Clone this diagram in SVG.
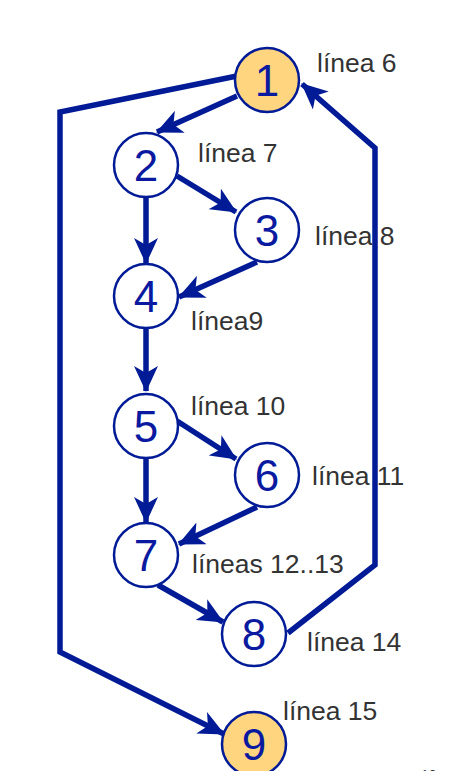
<svg xmlns="http://www.w3.org/2000/svg" width="449" height="771" viewBox="0 0 449 771">
<style>
.edge{fill:none;stroke:#011A96;stroke-width:5.5;stroke-linejoin:miter;marker-end:url(#arr)}
.node circle{fill:#fff;stroke:#011A96;stroke-width:2.5}
.node.hl circle{fill:#FFD580}
.num{font-family:"Liberation Sans",Arial,sans-serif;font-size:44px;fill:#0A1AA0;text-anchor:middle}
.lbl{font-family:"Liberation Sans",Arial,sans-serif;font-size:26.5px;fill:#333}
</style>
<defs>
<marker id="arr" markerUnits="userSpaceOnUse" viewBox="0 0 26 24" refX="25" refY="12" markerWidth="26" markerHeight="24" orient="auto">
<path d="M26,12 L0,0 L7,12 L0,24 Z" fill="#011A96"/>
</marker>
</defs>
<g id="connectors">
<line class="edge" x1="237" y1="96" x2="157" y2="132"/>
<polyline class="edge" points="237,76 60,112 60,652 224,734"/>
<polyline class="edge" points="288,633 375,565 375,148 302,84"/>
<line class="edge" x1="177" y1="176" x2="236" y2="212"/>
<line class="edge" x1="146" y1="198" x2="146" y2="263"/>
<line class="edge" x1="257" y1="262" x2="179" y2="297"/>
<line class="edge" x1="146" y1="328" x2="146" y2="391"/>
<line class="edge" x1="177" y1="421" x2="236" y2="459"/>
<line class="edge" x1="146" y1="458" x2="146" y2="522"/>
<line class="edge" x1="257" y1="507" x2="179" y2="544"/>
<line class="edge" x1="158" y1="585" x2="223" y2="622"/>
</g>
<g id="n1" class="node hl"><circle cx="267" cy="80" r="32"/><text class="num" x="267" y="96">1</text></g>
<g id="n2" class="node"><circle cx="146" cy="165" r="32"/><text class="num" x="146" y="181">2</text></g>
<g id="n3" class="node"><circle cx="267" cy="230" r="32"/><text class="num" x="267" y="246">3</text></g>
<g id="n4" class="node"><circle cx="146" cy="296" r="32"/><text class="num" x="146" y="312">4</text></g>
<g id="n5" class="node"><circle cx="146" cy="426" r="32"/><text class="num" x="146" y="442">5</text></g>
<g id="n6" class="node"><circle cx="267" cy="475" r="32"/><text class="num" x="267" y="491">6</text></g>
<g id="n7" class="node"><circle cx="146" cy="555" r="32"/><text class="num" x="146" y="571">7</text></g>
<g id="n8" class="node"><circle cx="254" cy="634" r="32"/><text class="num" x="254" y="650">8</text></g>
<g id="n9" class="node hl"><circle cx="254" cy="744" r="32"/><text class="num" x="254" y="760">9</text></g>
<g id="labels">
<text class="lbl" x="317" y="72">línea 6</text>
<text class="lbl" x="198" y="162">línea 7</text>
<text class="lbl" x="315" y="245">línea 8</text>
<text class="lbl" x="191" y="330">línea9</text>
<text class="lbl" x="191" y="415">línea 10</text>
<text class="lbl" x="312" y="485">línea 11</text>
<text class="lbl" x="192" y="573">líneas 12..13</text>
<text class="lbl" x="307" y="651">línea 14</text>
<text class="lbl" x="283" y="720">línea 15</text>
<text x="421" y="780" font-family="Liberation Sans,Arial,sans-serif" font-size="14" fill="#333">10</text>
</g>
</svg>
